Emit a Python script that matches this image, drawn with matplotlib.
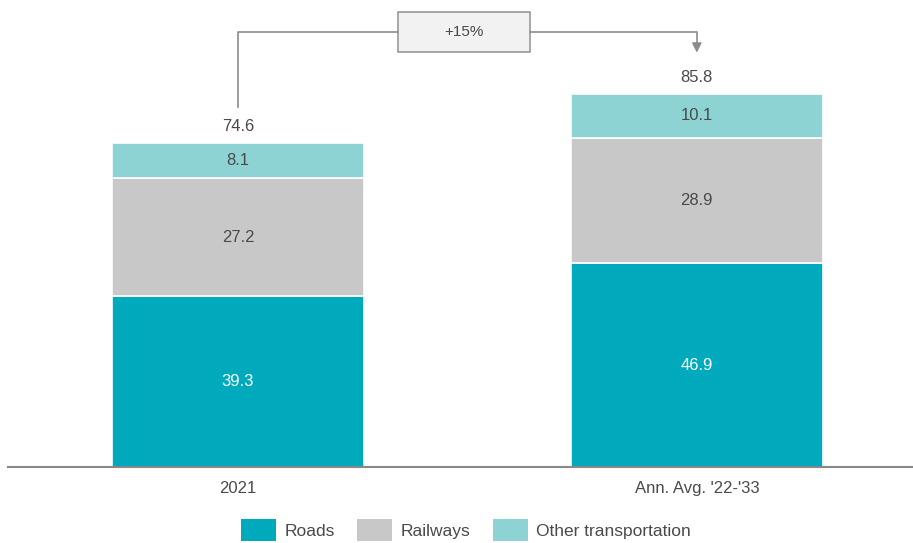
import matplotlib
matplotlib.use("Agg")
import matplotlib.pyplot as plt
from matplotlib.patches import Patch, Rectangle, FancyArrowPatch

plt.rcParams['font.family'] = ['Liberation Sans', 'DejaVu Sans']

categories = ["2021", "Ann. Avg. '22-'33"]
roads = [39.3, 46.9]
railways = [27.2, 28.9]
other = [8.1, 10.1]
totals = [74.6, 85.8]
growth_label = "+15%"

c_roads = "#00AABD"
c_rail = "#C8C8C8"
c_other = "#8DD3D3"
txt = "#4a4a4a"

fig = plt.figure(figsize=(9.13, 5.43), dpi=100)
ax = fig.add_axes([8 / 913, 76 / 543, 905 / 913, 465 / 543])

x = [0, 1]
w = 0.55
series = [(roads, c_roads, "Roads", "white"),
          (railways, c_rail, "Railways", txt),
          (other, c_other, "Other transportation", txt)]
bottom = [0.0, 0.0]
for vals, col, name, tc in series:
    ax.bar(x, vals, w, bottom=bottom, color=col, edgecolor="white",
           linewidth=1.2, label=name)
    for i, v in enumerate(vals):
        ax.text(x[i], bottom[i] + v / 2, f"{v:.1f}", ha="center", va="center",
                fontsize=12, color=tc)
    bottom = [b + v for b, v in zip(bottom, vals)]

for i, t in enumerate(totals):
    ax.text(x[i], bottom[i] + 2.0, f"{t:.1f}", ha="center", va="bottom",
            fontsize=12, color=txt)

# growth bracket between the two totals
y_line = 100.2
gray = "#8c8c8c"
box_x0, box_x1 = 0.349, 0.636
box_y0, box_y1 = 95.6, 104.8
ax.plot([0, 0, box_x0], [totals[0] + 8.3, y_line, y_line], color=gray, lw=1.2)
ax.plot([box_x1, 1, 1], [y_line, y_line, 96.5], color=gray, lw=1.2)
ax.add_patch(FancyArrowPatch((1, 97.5), (1, 94.7), arrowstyle="-|>",
                             mutation_scale=14, color=gray, lw=1.2))
ax.add_patch(Rectangle((box_x0, box_y0), box_x1 - box_x0, box_y1 - box_y0,
                       facecolor="#f2f2f2", edgecolor="#999999", lw=1.2,
                       clip_on=False))
ax.text((box_x0 + box_x1) / 2, (box_y0 + box_y1) / 2, growth_label,
        ha="center", va="center", fontsize=11, color=txt)

ax.set_xlim(-0.501, 1.471)
ax.set_ylim(0, 107)
ax.set_xticks(x)
ax.set_xticklabels(categories, fontsize=12, color=txt)
ax.tick_params(axis="x", length=0, pad=10)
ax.set_yticks([])
for s in ["top", "right", "left"]:
    ax.spines[s].set_visible(False)
ax.spines["bottom"].set_color("#888888")
ax.spines["bottom"].set_linewidth(1.5)

handles = [Patch(facecolor=c, edgecolor="none", label=n) for _, c, n, _ in series]
fig.legend(handles=handles, loc="center", bbox_to_anchor=(466 / 913, 1 - 530 / 543),
           ncol=3, frameon=False, fontsize=12.5, handlelength=2.0, handleheight=1.5,
           handletextpad=0.5, columnspacing=1.3, labelcolor=txt)

fig.savefig("out.png", dpi=100)
